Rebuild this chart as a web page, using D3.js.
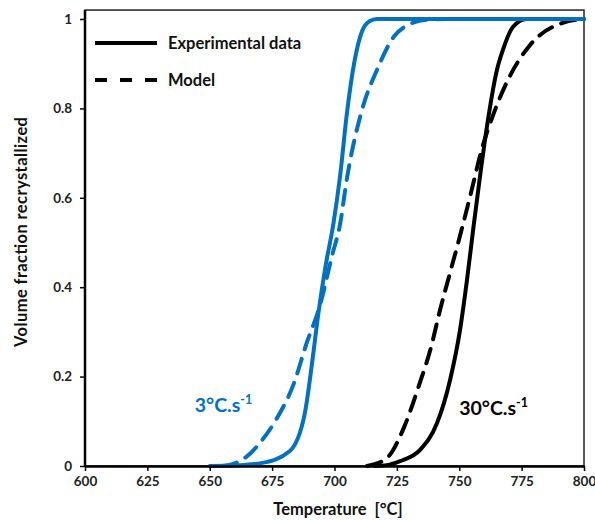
<!DOCTYPE html>
<html><head><meta charset="utf-8">
<script src="https://cdn.jsdelivr.net/npm/d3@7"></script>
<style>body{margin:0;background:#fff}svg{display:block}text{font-family:Lato,"Open Sans",sans-serif;font-weight:bold}</style>
</head><body>
<svg id="c" width="595" height="520"></svg>
<script>
// Data
const xTicks = [600,625,650,675,700,725,750,775,800];
const yTicks = [0,0.2,0.4,0.6,0.8,1];
const yTickLabels = ["0","0.2","0.4","0.6","0.8","1"];

const blueExpT = [650,660,671,682,688,691,693.5,696.5,699.5,702.2,705,708,711,714,717,800];
const blueExpV = [0,0.001,0.007,0.033,0.115,0.23,0.34,0.45,0.54,0.647,0.79,0.905,0.972,0.995,1.0,1.0];
const blueModT = [655,660,665,670,676.5,683.8,688.6,694.2,699,702.2,705,711,717,724,730,736,745,800];
const blueModV = [0,0.006,0.022,0.051,0.103,0.186,0.271,0.36,0.47,0.54,0.644,0.796,0.886,0.962,0.988,0.998,1.0,1.0];
const blackExpT = [716,721,726.3,734.3,741.1,746.3,750.3,753.1,755.6,758.3,761.5,765.1,767.5,771.5,777,800];
const blackExpV = [0,0.002,0.011,0.036,0.096,0.192,0.304,0.416,0.53,0.647,0.774,0.886,0.931,0.982,1.0,1.0];
const blackModT = [713,716.2,722.2,727.9,733.9,738.7,742.3,746.3,750.3,754.7,758.7,763.9,769.9,778.4,791.2,800];
const blackModV = [0,0.004,0.025,0.087,0.181,0.266,0.349,0.432,0.515,0.611,0.702,0.79,0.868,0.942,0.991,1.0];

const series = [
  {T:blackExpT, V:blackExpV, color:"#000000", dash:null},
  {T:blackModT, V:blackModV, color:"#000000", dash:"15,10"},
  {T:blueExpT, V:blueExpV, color:"#0070C0", dash:null},
  {T:blueModT, V:blueModV, color:"#0070C0", dash:"15,10"}
];
const legendItems = [{label:"Experimental data", dash:null},{label:"Model", dash:"12,13"}];
const annotations = [{text:"3°C.s", sup:"-1", T:644, V:0.12, color:"#0070C0"},
                     {text:"30°C.s", sup:"-1", T:750, V:0.115, color:"#000000"}];

const svg = d3.select("#c");
const x = d3.scaleLinear().domain([600,800]).range([85,584]);
const y = d3.scaleLinear().domain([0,1]).range([466,19]);

// frame
svg.append("rect").attr("x",x(600)).attr("y",y(1.02)).attr("width",x(800)-x(600)).attr("height",y(0)-y(1.02))
  .attr("fill","none").attr("stroke","#222").attr("stroke-width",1.5);

const line = d3.line().x(d=>x(d[0])).y(d=>y(d[1])).curve(d3.curveMonotoneX);
const g = svg.append("g");
series.forEach(s=>{
  const pts = s.T.map((t,i)=>[t,s.V[i]]);
  g.append("path").attr("d",line(pts)).attr("fill","none").attr("stroke",s.color)
    .attr("stroke-width",4).attr("stroke-dasharray",s.dash).attr("stroke-linecap","round").attr("stroke-linejoin","round");
});

// axes
const xa = svg.append("g").attr("transform",`translate(0,${y(0)})`)
  .call(d3.axisBottom(x).tickValues(xTicks).tickSize(5).tickSizeOuter(0).tickPadding(5));
const ya = svg.append("g").attr("transform",`translate(${x(600)},0)`)
  .call(d3.axisLeft(y).tickValues(yTicks).tickFormat((d,i)=>yTickLabels[i]).tickSize(5).tickSizeOuter(0).tickPadding(8));
[xa,ya].forEach(a=>{
  a.select(".domain").attr("stroke","#000").attr("stroke-width",2.5);
  a.selectAll(".tick line").attr("stroke","#000").attr("stroke-width",1.5);
  a.selectAll("text").attr("font-size",13.5).attr("fill","#222").style("font-family","Lato,sans-serif").style("font-weight","bold");
});
ya.select(".domain").attr("d",`M0,${y(0)}V${y(1.02)}`);

// titles
svg.append("text").attr("x",338).attr("y",515).attr("text-anchor","middle").attr("font-size",16.5).attr("fill","#111")
  .attr("xml:space","preserve").text("Temperature  [°C]");
svg.append("text").attr("transform","translate(27,232) rotate(-90)").attr("text-anchor","middle").attr("font-size",16.5).attr("fill","#111")
  .attr("textLength",230).attr("lengthAdjust","spacing").text("Volume fraction recrystallized");

// legend
const lg = svg.append("g");
legendItems.forEach((d,i)=>{
  const yy = 43 + i*37;
  lg.append("line").attr("x1",95).attr("x2",157).attr("y1",yy).attr("y2",yy).attr("stroke","#000").attr("stroke-width",4)
    .attr("stroke-dasharray",d.dash);
  lg.append("text").attr("x",168).attr("y",yy+6).attr("font-size",16.5).attr("fill","#111").text(d.label);
});

// annotations
annotations.forEach(a=>{
  const t = svg.append("text").attr("x",x(a.T)).attr("y",y(a.V)).attr("font-size",19.5).attr("fill",a.color);
  t.append("tspan").text(a.text);
  t.append("tspan").attr("dy",-8).attr("font-size",12.5).text(a.sup);
});
</script>
</body></html>
